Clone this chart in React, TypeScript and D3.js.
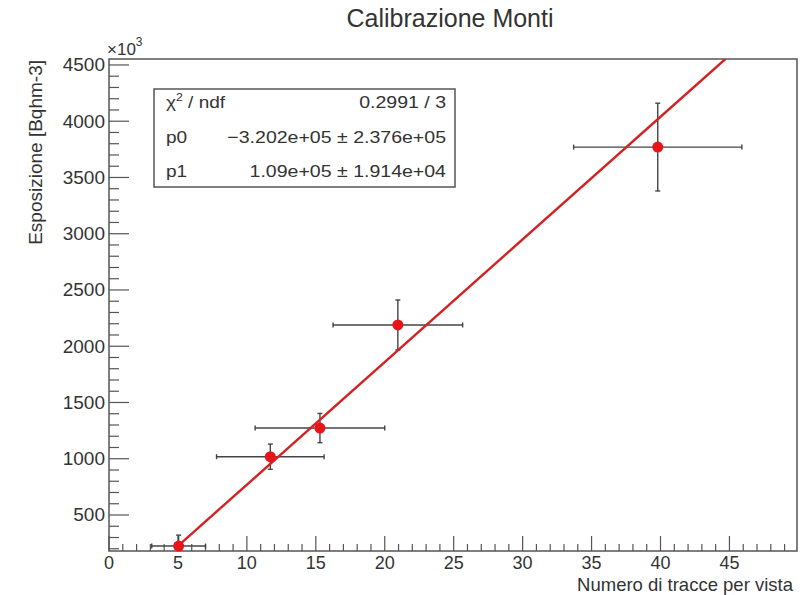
import React from 'react';
import * as d3 from 'd3';

// measured points (x in tracks per view, y in 10^3 Bq h m^-3)
const pointX = [5.05, 11.7, 15.3, 20.95, 39.8];
const pointY = [224, 1018, 1273, 2189, 3770];
const errX = [1.95, 3.9, 4.7, 4.7, 6.1];
const errY = [97, 112, 130, 222, 390];

// linear fit y = p0 + p1*x (in units of 10^3)
const fitP0 = -320.2;
const fitP1 = 109.0;

const xMajorTicks = [0, 5, 10, 15, 20, 25, 30, 35, 40, 45];
const yMajorTicks = [500, 1000, 1500, 2000, 2500, 3000, 3500, 4000, 4500];

const statRows = [
  { name: 'chi', value: '0.2991 / 3' },
  { name: 'p0', value: '\u22123.202e+05 \u00b1 2.376e+05' },
  { name: 'p1', value: '1.09e+05 \u00b1 1.914e+04' },
];

const W = 812;
const H = 595;
const frame = { left: 109, top: 59, right: 797, bottom: 551 };
const font = '"Liberation Sans", Arial, Helvetica, sans-serif';
const axisColor = '#555';
const textColor = '#333';

export default function App() {
  const x = d3.scaleLinear().domain([0, 49.9]).range([frame.left, frame.right]);
  const y = d3.scaleLinear().domain([180, 4553]).range([frame.bottom, frame.top]);

  const xMinor = d3.range(0, 50, 1);
  const yMinor = y.ticks(45).filter((v) => v >= 180);

  const fitStart = pointX[0];
  const fitEnd = (y.domain()[1] - fitP0) / fitP1;
  const fitLine = d3.line<number>()
    .x((v) => x(v))
    .y((v) => y(fitP0 + fitP1 * v));

  const box = { left: 154, top: 89, right: 455, bottom: 187 };

  return (
    <div style={{ position: 'absolute', left: 0, top: 0 }}>
      <svg width={W} height={H} style={{ display: 'block', background: '#fff', fontFamily: font }}>
        <defs>
          <clipPath id="frameClip">
            <rect x={frame.left} y={frame.top} width={frame.right - frame.left} height={frame.bottom - frame.top} />
          </clipPath>
        </defs>

        {/* title */}
        <text x={450} y={27} textAnchor="middle" fontSize={25} fill={textColor}>Calibrazione Monti</text>

        {/* frame */}
        <rect x={frame.left} y={frame.top} width={frame.right - frame.left} height={frame.bottom - frame.top}
          fill="none" stroke={axisColor} strokeWidth={1.5} />

        {/* x axis ticks */}
        {xMinor.map((v) => {
          const major = v % 5 === 0;
          return (
            <line key={'xm' + v} x1={x(v)} x2={x(v)} y1={frame.bottom} y2={frame.bottom - (major ? 15 : 7)}
              stroke={axisColor} strokeWidth={1.2} />
          );
        })}
        {xMajorTicks.map((v) => (
          <text key={'xl' + v} x={x(v)} y={frame.bottom + 18} textAnchor="middle" fontSize={18} fill={textColor}>{v}</text>
        ))}

        {/* y axis ticks */}
        {yMinor.map((v) => {
          const major = v % 500 === 0;
          return (
            <line key={'ym' + v} x1={frame.left} x2={frame.left + (major ? 20 : 10)} y1={y(v)} y2={y(v)}
              stroke={axisColor} strokeWidth={1.2} />
          );
        })}
        {yMajorTicks.map((v) => (
          <text key={'yl' + v} x={frame.left - 4} y={y(v) + 6.5} textAnchor="end" fontSize={19} fill={textColor}>{v}</text>
        ))}
        <text x={107} y={55} fontSize={17} fill={textColor}>
          ×10<tspan dy={-9} fontSize={12}>3</tspan>
        </text>

        {/* axis titles */}
        <text x={793} y={591} textAnchor="end" fontSize={18.5} fill={textColor}>Numero di tracce per vista</text>
        <text transform={`translate(42,${frame.top + 1}) rotate(-90)`} textAnchor="end" fontSize={19} fill={textColor}>
          Esposizione [Bqhm-3]
        </text>

        {/* error bars */}
        <g clipPath="url(#frameClip)" stroke="#444" strokeWidth={1.4}>
          {pointX.map((px, i) => {
            const cx = x(px);
            const cy = y(pointY[i]);
            const x0 = x(px - errX[i]);
            const x1 = x(px + errX[i]);
            const y0 = y(pointY[i] - errY[i]);
            const y1 = y(pointY[i] + errY[i]);
            return (
              <g key={'e' + i}>
                <line x1={x0} x2={x1} y1={cy} y2={cy} />
                <line x1={x0} x2={x0} y1={cy - 2.5} y2={cy + 2.5} />
                <line x1={x1} x2={x1} y1={cy - 2.5} y2={cy + 2.5} />
                <line x1={cx} x2={cx} y1={y0} y2={y1} />
                <line x1={cx - 2.5} x2={cx + 2.5} y1={y0} y2={y0} />
                <line x1={cx - 2.5} x2={cx + 2.5} y1={y1} y2={y1} />
              </g>
            );
          })}
        </g>

        {/* fit */}
        <path d={fitLine([fitStart, fitEnd]) || ''} clipPath="url(#frameClip)" fill="none" stroke="#d42222" strokeWidth={2.4} />

        {/* points */}
        {pointX.map((px, i) => (
          <circle key={'p' + i} cx={x(px)} cy={y(pointY[i])} r={5.5} fill="#e8141a" />
        ))}

        {/* stats box */}
        <rect x={box.left} y={box.top} width={box.right - box.left} height={box.bottom - box.top}
          fill="#fff" stroke={axisColor} strokeWidth={1.5} />
        {statRows.map((r, i) => {
          const ty = 108 + i * 34.5;
          return (
            <g key={r.name} fontSize={17} fill={textColor}>
              <g transform={`translate(166,${ty}) scale(1.12,1)`}>
                {r.name === 'chi' ? (
                  <text x={0} y={0}>χ<tspan dy={-7} fontSize={11}>2</tspan><tspan dy={7}> / ndf</tspan></text>
                ) : (
                  <text x={0} y={0}>{r.name}</text>
                )}
              </g>
              <g transform={`translate(446,${ty}) scale(1.15,1)`}>
                <text x={0} y={0} textAnchor="end">{r.value}</text>
              </g>
            </g>
          );
        })}
      </svg>
    </div>
  );
}
